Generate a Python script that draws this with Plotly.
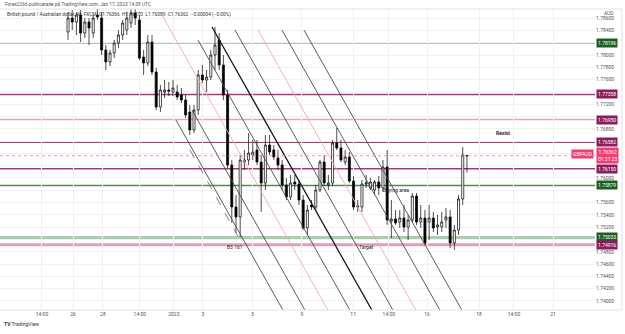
import plotly.graph_objects as go

# ---- 4h GBPAUD candles ----
OPEN = [1.78374, 1.78601, 1.78536, 1.78650, 1.78357, 1.78536, 1.78357, 1.78650, 1.78601, 1.78081,
        1.77886, 1.78032, 1.78195, 1.78325, 1.78406, 1.78520, 1.78683, 1.78569, 1.77967, 1.77870,
        1.78211, 1.77723, 1.77154, 1.77398, 1.77431, 1.77398, 1.77398, 1.77349, 1.77268, 1.77073,
        1.76780, 1.77105, 1.77675, 1.77593, 1.77642, 1.78000, 1.78244, 1.77837, 1.77349, 1.76211,
        1.75528, 1.75366, 1.76260, 1.76292, 1.76374, 1.76455, 1.76260, 1.75918, 1.76536, 1.76455,
        1.76325, 1.76211, 1.75886, 1.75691, 1.75935, 1.75902, 1.75642, 1.75187, 1.75561, 1.75528,
        1.75805, 1.76260, 1.75886, 1.75918, 1.76569, 1.76488, 1.76260, 1.76341, 1.75951, 1.75528,
        1.75528, 1.75902, 1.75837, 1.75805, 1.75935, 1.75837, 1.76179, 1.75301, 1.75333, 1.75284,
        1.75349, 1.75203, 1.75317, 1.75707, 1.75284, 1.75349, 1.75284, 1.75349, 1.75203, 1.75203,
        1.75317, 1.75366, 1.74943, 1.75154, 1.75658, 1.76366]
HIGH = [1.78699, 1.78731, 1.78699, 1.78731, 1.78601, 1.78601, 1.78650, 1.78764, 1.78699, 1.78162,
        1.78081, 1.78244, 1.78406, 1.78569, 1.78699, 1.78894, 1.78813, 1.78650, 1.78081, 1.78325,
        1.78325, 1.77788, 1.77512, 1.77593, 1.77561, 1.77593, 1.77512, 1.77463, 1.77349, 1.77187,
        1.77187, 1.77756, 1.77837, 1.77756, 1.78081, 1.78455, 1.78357, 1.78000, 1.77431, 1.76292,
        1.75723, 1.76374, 1.76455, 1.76731, 1.76618, 1.76618, 1.76374, 1.76699, 1.76699, 1.76536,
        1.76455, 1.76292, 1.76000, 1.76049, 1.76049, 1.75967, 1.75723, 1.75561, 1.75642, 1.75886,
        1.76292, 1.76374, 1.76049, 1.76618, 1.76813, 1.76618, 1.76455, 1.76422, 1.76032, 1.75642,
        1.75967, 1.76049, 1.76000, 1.75967, 1.76032, 1.76292, 1.76455, 1.75642, 1.75479, 1.75479,
        1.75561, 1.75398, 1.75756, 1.75756, 1.75561, 1.75479, 1.75561, 1.75447, 1.75398, 1.75447,
        1.75512, 1.75479, 1.75236, 1.75723, 1.76504, 1.76370]
LOW = [1.78244, 1.78406, 1.78325, 1.78211, 1.78276, 1.78162, 1.78276, 1.78569, 1.78000, 1.77756,
       1.77821, 1.77951, 1.78114, 1.78244, 1.78325, 1.78439, 1.78488, 1.77918, 1.77675, 1.77821,
       1.77675, 1.77105, 1.77073, 1.77301, 1.77333, 1.77333, 1.77268, 1.77219, 1.76975, 1.76699,
       1.76731, 1.77024, 1.77544, 1.77398, 1.77593, 1.77756, 1.77756, 1.77268, 1.76162, 1.75268,
       1.75105, 1.75040, 1.76130, 1.76211, 1.76292, 1.76211, 1.75447, 1.75805, 1.76374, 1.76292,
       1.76130, 1.75805, 1.75642, 1.75642, 1.75805, 1.75561, 1.75154, 1.75073, 1.75479, 1.75479,
       1.75772, 1.75870, 1.75805, 1.75870, 1.76455, 1.76260, 1.76211, 1.75918, 1.75479, 1.75447,
       1.75447, 1.75837, 1.75805, 1.75723, 1.75723, 1.75772, 1.75236, 1.75024, 1.75236, 1.75187,
       1.75122, 1.74992, 1.75284, 1.75236, 1.75187, 1.74910, 1.74992, 1.75122, 1.75073, 1.75122,
       1.75187, 1.74862, 1.74829, 1.75073, 1.75561, 1.76089]
CLOSE = [1.78601, 1.78536, 1.78650, 1.78357, 1.78536, 1.78439, 1.78601, 1.78618, 1.78081, 1.77886,
         1.78032, 1.78195, 1.78325, 1.78520, 1.78601, 1.78683, 1.78601, 1.77951, 1.77870, 1.78211,
         1.77723, 1.77154, 1.77431, 1.77431, 1.77414, 1.77463, 1.77317, 1.77268, 1.77024, 1.76780,
         1.77105, 1.77675, 1.77593, 1.77642, 1.78000, 1.78162, 1.77837, 1.77349, 1.76211, 1.75528,
         1.75366, 1.76292, 1.76292, 1.76406, 1.76422, 1.76260, 1.75918, 1.76536, 1.76422, 1.76341,
         1.76211, 1.75886, 1.75691, 1.75918, 1.75902, 1.75642, 1.75187, 1.75479, 1.75528, 1.75805,
         1.76260, 1.75918, 1.75918, 1.76569, 1.76488, 1.76292, 1.76341, 1.75951, 1.75528, 1.75544,
         1.75902, 1.75918, 1.75935, 1.75935, 1.75837, 1.76179, 1.75317, 1.75333, 1.75268, 1.75349,
         1.75203, 1.75317, 1.75707, 1.75284, 1.75349, 1.74943, 1.75349, 1.75187, 1.75236, 1.75284,
         1.75366, 1.74943, 1.75154, 1.75658, 1.76374, 1.76362]
BAR = list(range(len(OPEN)))

# ---- time axis ----
TICK_POS = [-6.2, 1.2, 8.3, 17.1, 25.2, 32.1, 44.0, 55.7, 67.9, 76.4, 85.5, 97.9, 106.2, 115.5]
TICK_TEXT = ["14:00", "26", "28", "14:00", "2023", "3", "5", "9", "11", "14:00", "16", "18", "14:00", "21"]
X_RANGE = [-16.2, 125.5]

# ---- price axis ----
Y_RANGE = [1.73853, 1.78748]
PRICE_TICKS = [1.740, 1.742, 1.744, 1.746, 1.748, 1.750, 1.752, 1.754, 1.756, 1.758, 1.760, 1.762,
               1.764, 1.766, 1.768, 1.770, 1.772, 1.774, 1.776, 1.778, 1.780, 1.782, 1.784, 1.786]
# tick labels covered by the coloured price tags
PRICE_TICKS_HIDDEN = [1.750, 1.758, 1.762, 1.764, 1.766, 1.770, 1.774, 1.782]

# ---- horizontal levels ----
LEVELS = [1.78196, 1.77358, 1.76950, 1.76582, 1.76150, 1.75879, 1.75033, 1.74916]
LEVEL_COLOR = ["#4f7f4f", "#a8397a", "#e3a3c4", "#a8397a", "#a8397a", "#4f8a55", "#a9cfa9", "#df9ec0"]
LEVEL_WIDTH = [1.0, 1.5, 1.5, 1.5, 1.5, 1.5, 3.0, 3.0]
LEVEL_TAG = ["#1e5e22", "#8c1d5d", "#8c1d5d", "#8c1d5d", "#8c1d5d", "#1e5e22", "#1e5e22", "#8c1d5d"]
LAST_PRICE = 1.76362
COUNTDOWN = "01:21:23"

# ---- pitchfork tines: (start bar, start price, end bar, end price, kind) ----
TINE_X0 = [25.71, 29.52, 22.38, 30.95, 34.29, 39.76, 45.24, 50.95, 56.19]
TINE_Y0 = [1.76943, 1.77105, 1.78650, 1.78244, 1.78455, 1.78406, 1.78406, 1.78406, 1.78406]
TINE_X1 = [51.43, 56.67, 62.14, 67.38, 72.62, 77.62, 83.10, 88.81, 94.05]
TINE_Y1 = [1.73821] * 9
TINE_KIND = ["gray", "gray", "pink", "gray", "median", "gray", "pink", "gray", "gray"]
DASH_X = [29.05, 40.95]
DASH_Y = [1.76455, 1.74992]

# ---- chart notes ----
NOTE_TEXT = ["<b>Resist</b>", "Buying area", "Target", "B3 161"]
NOTE_X = [103.6, 78.1, 71.2, 39.8]
NOTE_Y = [1.76731, 1.75805, 1.74878, 1.74878]

FONT = "Roboto, Arial, sans-serif"

fig = go.Figure()

style = {"gray": ("#4a4a4a", 0.9), "pink": ("#f3a7c0", 0.9), "median": ("#1a1a1a", 1.3)}
for x0, y0, x1, y1, k in zip(TINE_X0, TINE_Y0, TINE_X1, TINE_Y1, TINE_KIND):
    c, w = style[k]
    fig.add_trace(go.Scatter(x=[x0, x1], y=[y0, y1], mode="lines",
                             line=dict(color=c, width=w), hoverinfo="skip", showlegend=False))
fig.add_trace(go.Scatter(x=DASH_X, y=DASH_Y, mode="lines",
                         line=dict(color="#666666", width=0.8, dash="dash"),
                         hoverinfo="skip", showlegend=False))

fig.add_trace(go.Candlestick(
    x=BAR, open=OPEN, high=HIGH, low=LOW, close=CLOSE,
    increasing=dict(line=dict(color="#000000", width=0.7), fillcolor="#ffffff"),
    decreasing=dict(line=dict(color="#000000", width=0.7), fillcolor="#000000"),
    whiskerwidth=0, showlegend=False, hoverinfo="skip"))

shapes = []
for lv, c, w in zip(LEVELS, LEVEL_COLOR, LEVEL_WIDTH):
    shapes.append(dict(type="line", xref="paper", yref="y", x0=0, x1=1, y0=lv, y1=lv,
                       line=dict(color=c, width=w), layer="below"))
shapes.append(dict(type="line", xref="paper", yref="y", x0=0, x1=1, y0=LAST_PRICE, y1=LAST_PRICE,
                   line=dict(color="#f07a9c", width=0.8, dash="dot")))
# pane frame
shapes.append(dict(type="line", xref="paper", yref="paper", x0=0, x1=1.0454, y0=1, y1=1,
                   line=dict(color="#dfe2e8", width=1)))
shapes.append(dict(type="line", xref="paper", yref="paper", x0=1.0454, x1=1.0454, y0=0, y1=1,
                   line=dict(color="#dfe2e8", width=1)))
shapes.append(dict(type="line", xref="paper", yref="paper", x0=0, x1=1.0454, y0=0, y1=0,
                   line=dict(color="#dfe2e8", width=1)))

ann = []
for lv, tag in zip(LEVELS, LEVEL_TAG):
    ann.append(dict(xref="paper", yref="y", x=1, y=lv, xanchor="left", yanchor="middle",
                    xshift=1, text=f"{lv:.5f}", showarrow=False, bgcolor=tag, borderpad=1,
                    font=dict(color="white", size=5, family=FONT)))
ann.append(dict(xref="paper", yref="y", x=1, y=LAST_PRICE, xanchor="left", yanchor="middle",
                xshift=1, text=f"{LAST_PRICE:.5f}<br>{COUNTDOWN}", showarrow=False,
                bgcolor="#f23d72", borderpad=1, align="center",
                font=dict(color="white", size=5, family=FONT)))
ann.append(dict(xref="paper", yref="y", x=1, y=LAST_PRICE, xanchor="right", yanchor="middle",
                xshift=-1, yshift=2, text="GBPAUD", showarrow=False, bgcolor="#f23d72", borderpad=1,
                font=dict(color="white", size=5, family=FONT)))
for t, x, y in zip(NOTE_TEXT, NOTE_X, NOTE_Y):
    ann.append(dict(xref="x", yref="y", x=x, y=y, text=t, showarrow=False,
                    xanchor="center", yanchor="middle",
                    font=dict(color="#222222", size=5, family=FONT)))
ann.append(dict(xref="paper", yref="paper", x=0.005, y=1.0166, xanchor="left", yanchor="middle",
                text="Forex2266 publicerade på TradingView.com, Jan 17, 2023 14:38 UTC", showarrow=False,
                font=dict(color="#555555", size=4.8, family=FONT)))
ann.append(dict(xref="paper", yref="paper", x=0.008, y=0.983, xanchor="left", yanchor="middle",
                text="British pound / Australian dollar, 4h, FXCM  O1.76366  H1.76370  L1.76089  C1.76362  −0.00004 (−0.00%)",
                showarrow=False, font=dict(color="#333333", size=4.8, family=FONT)))
ann.append(dict(xref="paper", yref="paper", x=1.0235, y=0.985, xanchor="center", yanchor="middle",
                text="AUD", showarrow=False, font=dict(color="#555555", size=4.8, family=FONT)))
ann.append(dict(xref="paper", yref="paper", x=0.004, y=-0.0465, xanchor="left", yanchor="middle",
                text="<b>TV</b> TradingView", showarrow=False,
                font=dict(color="#333333", size=5, family=FONT)))

price_text = ["" if any(abs(v - h) < 1e-9 for h in PRICE_TICKS_HIDDEN) else f"{v:.5f}"
              for v in PRICE_TICKS]

fig.update_layout(
    width=625, height=334, autosize=False,
    margin=dict(l=0, r=30, t=9, b=24, pad=0),
    paper_bgcolor="white", plot_bgcolor="white",
    shapes=shapes, annotations=ann, showlegend=False,
    font=dict(family=FONT, size=5, color="#555555"),
    xaxis=dict(range=X_RANGE, tickvals=TICK_POS, ticktext=TICK_TEXT, showgrid=True,
               gridcolor="#f1f1f1", gridwidth=1, zeroline=False, showline=False,
               rangeslider=dict(visible=False), ticks="", tickfont=dict(size=5, color="#555555"),
               fixedrange=True),
    yaxis=dict(range=Y_RANGE, side="right", tickvals=PRICE_TICKS, ticktext=price_text,
               showgrid=True, gridcolor="#f1f1f1", zeroline=False, ticks="",
               tickfont=dict(size=5, color="#555555"), fixedrange=True),
)

fig.write_html("out.html")
